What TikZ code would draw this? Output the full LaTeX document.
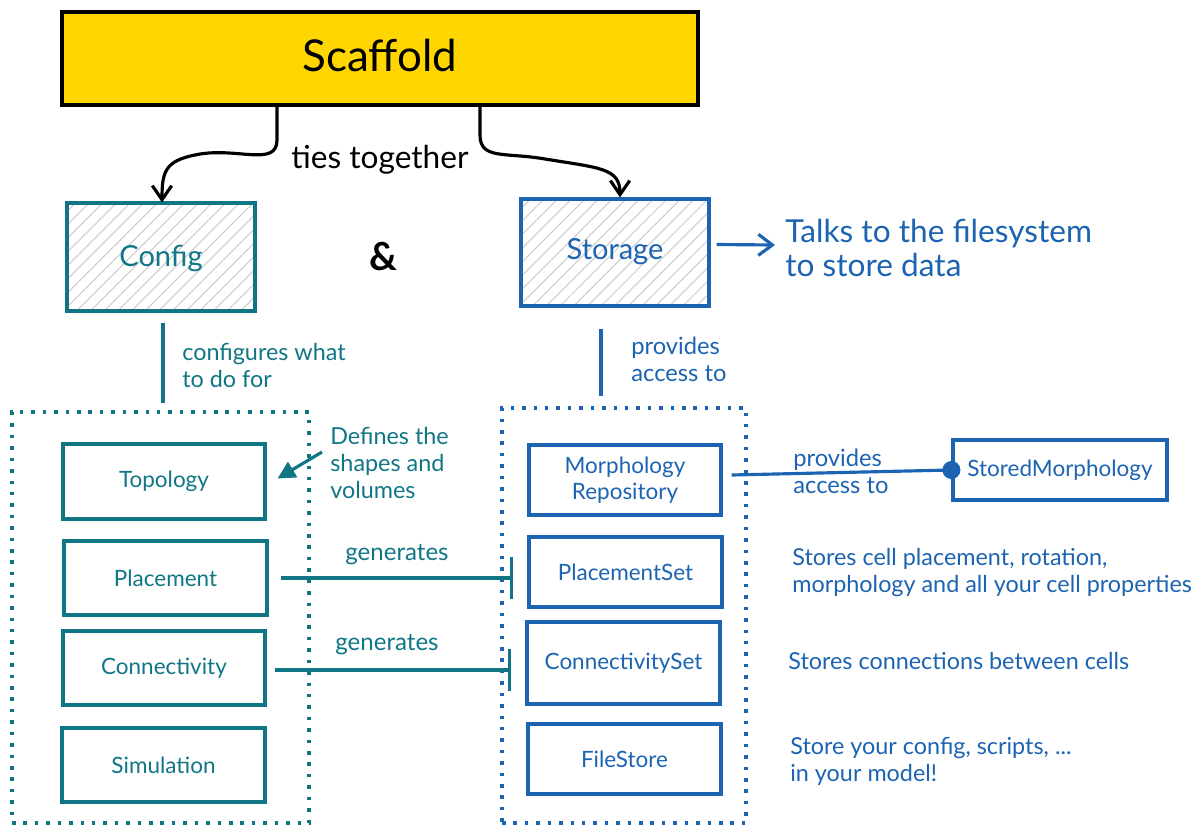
\documentclass[tikz,border=0pt]{standalone}
\usepackage{fontspec}
\setmainfont{Lato}
\usetikzlibrary{arrows.meta,patterns.meta,fit,calc}
\definecolor{tealc}{RGB}{16,118,134}
\definecolor{bluec}{RGB}{28,100,178}
\definecolor{yellowc}{RGB}{255,214,0}
\newcommand{\fsz}[2]{\fontsize{#1}{#2}\selectfont}
\tikzset{
  box/.style={draw, line width=1.8pt, inner sep=0pt, align=center},
  tbox/.style={box, draw=tealc},
  bbox/.style={box, draw=bluec},
  ttxt/.style={text=tealc, font=\fsz{12.8pt}{15pt}, align=center},
  btxt/.style={text=bluec, font=\fsz{12.8pt}{15pt}, align=center},
  hatched/.style={pattern={Lines[angle=45,distance=5.5pt,line width=0.6pt]}, pattern color=gray!40},
  grp/.style={draw, line width=2pt, dash pattern=on 2pt off 4.5pt, inner sep=0pt},
  tlabel/.style={text=tealc, anchor=north west, align=left, inner sep=0pt, font=\fsz{13.3pt}{15.3pt}},
  blabel/.style={text=bluec, anchor=north west, align=left, inner sep=0pt, font=\fsz{13.3pt}{15.3pt}},
  blackarr/.style={draw=black, line width=1.8pt, -{Straight Barb[length=8pt,width=11pt,line width=1.8pt]}},
  conn/.style={line width=1.8pt},
}
\begin{document}
\begin{tikzpicture}[x=0.02cm,y=-0.02cm]
\useasboundingbox (0,0) rectangle (1199,825);
% Scaffold
\node[box, draw=black, line width=1.8pt, fill=yellowc, fit={(62,12) (698,105)}] (scaffold) {};
\node[font=\fsz{25pt}{30pt}] (scaffoldtxt) at (380,55) {Scaffold};
% Config / Storage
\node[box, draw=tealc, hatched, fit={(67,203) (255,311)}] (config) {};
\node[text=tealc, font=\fsz{16.5pt}{20pt}] (configtxt) at (161,258) {Config};
\node[box, draw=bluec, hatched, fit={(521,199) (709,306)}] (storage) {};
\node[text=bluec, font=\fsz{16.5pt}{20pt}] (storagetxt) at (615,252) {Storage};
\node[font=\fsz{22pt}{26pt}\bfseries] (amp) at (383,257) {\&};
% ties together arrows
\coordinate (s1) at (277,105);
\coordinate (s2) at (480,105);
\draw[blackarr] (s1) -- (277,140) .. controls (277,168) and (235,146) .. (195,155) .. controls (165,161) and (162,172) .. (config.north -| 162,0);
\draw[blackarr] (s2) -- (480,135) .. controls (480,160) and (505,152) .. (545,159) .. controls (600,168) and (620,168) .. (storage.north -| 620,0);
\node[font=\fsz{18pt}{21pt}] (ties) at (380,160) {ties together};
% Talks
\node[text=bluec, anchor=north west, align=left, inner sep=0pt, font=\fsz{18pt}{19.3pt}] (talks) at (785,219) {Talks to the filesystem\\to store data};
\coordinate (talksin) at (775,245);
\draw[draw=bluec, line width=1.8pt, -{Straight Barb[length=8pt,width=12pt,line width=1.8pt]}] ($(storage.east)+(6,-8)$) -- (talksin);
% Groups
\node[grp, draw=tealc, fit={(12,412) (309,823)}] (leftgrp) {};
\node[grp, draw=bluec, fit={(502,408) (746,823)}] (rightgrp) {};
% Config -> group
\draw[conn, tealc] ($(config.south)+(2,11)$) -- ($(leftgrp.north -| config.south)+(2,-7)$);
\node[tlabel] (cfgwhat) at (182,343) {configures what\\to do for};
% Storage -> group
\draw[conn, bluec] ($(storage.south)+(-14,21)$) -- ($(rightgrp.north -| storage.south)+(-14,-10)$);
\node[blabel, font=\fsz{13.5pt}{15.3pt}] (provides1) at (631,337) {provides\\access to};
% Left boxes
\node[tbox, fit={(63,444) (265,519)}] (topo) {};
\node[ttxt] at (topo.center) {Topology};
\node[tbox, fit={(64,541) (267,615)}] (place) {};
\node[ttxt] at (place.center) {Placement};
\node[tbox, fit={(63,631) (265,705)}] (connect) {};
\node[ttxt] at (connect.center) {Connectivity};
\node[tbox, fit={(62,728) (265,802)}] (sim) {};
\node[ttxt] at (sim.center) {Simulation};
% Right boxes
\node[bbox, fit={(529,445) (721,515)}] (morph) {};
\node[btxt] at (morph.center) {Morphology\\Repository};
\node[bbox, fit={(529,537) (722,607)}] (pset) {};
\node[btxt] at (pset.center) {PlacementSet};
\node[bbox, fit={(527,622) (720,704)}] (cset) {};
\node[btxt] at (cset.center) {ConnectivitySet};
\node[bbox, fit={(528,724) (721,794)}] (fstore) {};
\node[btxt] at (fstore.center) {FileStore};
\node[bbox, fit={(953,440) (1167,500)}] (stored) {};
\node[btxt] at (stored.center) {StoredMorphology};
% Defines
\node[tlabel] (defines) at (330,427) {Defines the\\shapes and\\volumes};
\coordinate (defstart) at (322,452);
\draw[conn, tealc, -{Triangle[length=10pt,width=10pt]}] (defstart) -- ($(topo.east)+(11,-3)$);
% generates
\draw[conn, tealc, -{Bar[width=24pt,line width=1.8pt]}] ($(place.east)+(12,0)$) -- ($(place.east -| pset.west)+(-14,0)$);
\node[text=tealc, font=\fsz{13.7pt}{16pt}] (gen1) at (397,555) {generates};
\draw[conn, tealc, -{Bar[width=24pt,line width=1.8pt]}] ($(connect.east)+(8,2)$) -- ($(connect.east -| cset.west)+(-14,2)$);
\node[text=tealc, font=\fsz{13.7pt}{16pt}] (gen2) at (387,645) {generates};
% provides access to StoredMorphology
\draw[conn, bluec] ($(morph.east)+(9,-5)$) -- (stored.west);
\fill[bluec] (stored.west) circle[radius=9];
\node[blabel, font=\fsz{13.5pt}{15.3pt}] (provides2) at (793,449) {provides\\access to};
% descriptions
\node[blabel] (desc1) at (792,548) {Stores cell placement, rotation,\\morphology and all your cell properties};
\node[blabel] (desc2) at (788,652) {Stores connections between cells};
\node[blabel] (desc3) at (790,737) {Store your config, scripts, ...\\in your model!};
\end{tikzpicture}
\end{document}
